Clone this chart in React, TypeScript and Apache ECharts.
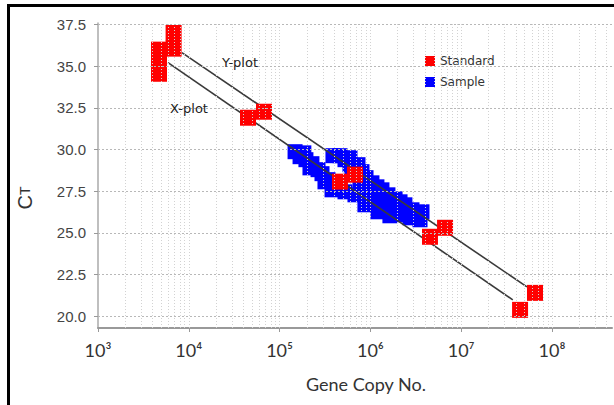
import React, { useEffect, useRef } from "react";
import * as echarts from "echarts";

const yTicks = [20, 22.5, 25, 27.5, 30, 32.5, 35, 37.5];
const xTicks = [1e3, 1e4, 1e5, 1e6, 1e7, 1e8];
const xTickLabels = ["10³", "10⁴", "10⁵", "10⁶", "10⁷", "10⁸"];
const minorMultipliers = [1, 2, 3, 4, 5, 6, 7, 8, 9];

const standard: [number, number][] = [
  [4.7e3, 36.0], [4.7e3, 35.3], [4.7e3, 34.55], [6.8e3, 37.0], [6.8e3, 36.06],
  [4.49e4, 31.91], [6.73e4, 32.27],
  [4.62e5, 28.07], [6.76e5, 28.49],
  [4.53e6, 24.76], [6.64e6, 25.3],
  [4.45e7, 20.37], [6.5e7, 21.39],
];

const sample: [number, number][] = [
  [1.48e5, 29.87], [1.68e5, 29.57], [1.85e5, 29.8], [1.95e5, 29.39], [2.27e5, 29.15],
  [2.16e5, 28.9], [2.65e5, 28.79], [2.93e5, 28.55], [3.16e5, 28.06], [3.41e5, 28.19],
  [3.78e5, 27.58], [3.87e5, 27.88],
  [3.87e5, 29.63], [4.63e5, 29.63], [5.25e5, 29.39], [5.96e5, 29.51], [5.96e5, 29.09],
  [7.3e5, 29.09], [6.94e5, 28.79], [6.27e5, 28.49],
  [8.08e5, 28.67], [8.95e5, 28.31], [1.04e6, 28.0], [1.18e6, 27.76], [1.34e6, 27.58],
  [1.56e6, 27.28], [1.87e6, 27.04], [2.12e6, 26.86], [2.4e6, 26.68], [2.87e6, 26.38],
  [3.34e6, 26.14], [3.7e6, 26.26],
  [5.25e5, 27.46], [6.76e5, 27.28], [7.68e5, 27.88], [9.42e5, 27.58], [1.12e6, 27.1],
  [8.7e5, 26.68], [1.21e6, 26.26], [1.45e6, 26.68], [1.64e6, 26.98], [1.64e6, 26.02],
  [1.87e6, 26.5], [2.12e6, 26.08], [2.73e6, 25.9], [3.52e6, 25.78],
];

const yPlotLine: [number, number][] = [[8.4e3, 35.82], [5.3e7, 21.75]];
const xPlotLine: [number, number][] = [[5.9e3, 35.22], [3.7e7, 20.97]];

const X_MAX = 4.58e8;

export default function App() {
  const ref = useRef<HTMLDivElement>(null);
  useEffect(() => {
    document.body.style.margin = "0";
    const chart = echarts.init(ref.current!, undefined, { renderer: "svg" });
    const gridX: number[] = [];
    xTicks.forEach((d) => minorMultipliers.forEach((m) => {
      if (d * m <= X_MAX && d * m > 1e3) gridX.push(d * m);
    }));
    const option: any = {
      animation: false,
      backgroundColor: "#fff",
      grid: { left: 98, right: 2, top: 23, bottom: 77, outerBoundsMode: "none", containLabel: false },
      legend: {
        data: ["Standard", "Sample"],
        orient: "vertical",
        left: 425,
        top: 55,
        itemWidth: 10,
        itemHeight: 10,
        itemGap: 9,
        icon: "rect",
        padding: 0,
        itemStyle: { borderWidth: 0 },
        textStyle: { fontFamily: "DejaVu Sans", fontSize: 12, color: "#333" },
      },
      xAxis: {
        type: "log",
        logBase: 10,
        min: 1e3,
        max: X_MAX,
        axisLine: { show: true, lineStyle: { color: "#999", width: 2 } },
        axisTick: { show: true, customValues: xTicks, length: 4, lineStyle: { color: "#999" } },
        axisLabel: {
          customValues: xTicks,
          formatter: (v: number) => xTickLabels[Math.round(Math.log10(v)) - 3] ?? "",
          fontFamily: "Lato",
          fontSize: 18,
          color: "#333",
          margin: 13,
        },
        splitLine: { show: false },
        minorTick: { show: false },
      },
      yAxis: {
        type: "value",
        min: 19.28,
        max: 37.6,
        axisLine: { show: true, lineStyle: { color: "#aaa", width: 1.5 } },
        axisTick: { show: true, customValues: yTicks, length: 4, lineStyle: { color: "#999" } },
        axisLabel: {
          customValues: yTicks,
          formatter: (v: number) => v.toFixed(1),
          fontFamily: "Liberation Sans",
          fontSize: 15,
          color: "#444",
          margin: 12,
        },
        splitLine: { show: false },
      },
      graphic: [
        { type: "rect", shape: { x: 7, y: 4, width: 3, height: 405 }, style: { fill: "#000" }, silent: true },
        { type: "rect", shape: { x: 7, y: 4, width: 614, height: 3 }, style: { fill: "#000" }, silent: true },
        {
          type: "text", x: 240, y: 62, z: 100,
          style: { text: "Y-plot", fontFamily: "DejaVu Sans", fontSize: 13, fill: "#222", textAlign: "center", textVerticalAlign: "middle" },
        },
        {
          type: "text", x: 189, y: 108, z: 100,
          style: { text: "X-plot", fontFamily: "DejaVu Sans", fontSize: 13, fill: "#222", textAlign: "center", textVerticalAlign: "middle" },
        },
        {
          type: "text", x: 366, y: 384, z: 100,
          style: { text: "Gene Copy No.", fontFamily: "Lato", fontSize: 18, fill: "#333", textAlign: "center", textVerticalAlign: "middle" },
        },
        {
          type: "text", x: 25, y: 198, rotation: Math.PI / 2, z: 100,
          style: {
            text: "{a|C}{b|T}",
            textAlign: "center",
            textVerticalAlign: "middle",
            rich: {
              a: { fontFamily: "Liberation Sans", fontSize: 20, fill: "#333" },
              b: { fontFamily: "Liberation Sans", fontSize: 14, fill: "#333" },
            },
          },
        },
      ],
      series: [
        {
          name: "grid",
          type: "line",
          data: [],
          silent: true,
          z: 0,
          markLine: {
            silent: true,
            symbol: ["none", "none"],
            label: { show: false },
            animation: false,
            emphasis: { disabled: true },
            data: [
              ...gridX.map((v) => ({ xAxis: v, lineStyle: { color: "#d2d2d2", type: [1, 2], width: 1 } })),
              ...yTicks.map((v) => ({ yAxis: v, lineStyle: { color: "#b8b8b8", type: [2, 2], width: 1 } })),
            ],
          },
        },
        {
          name: "Sample",
          type: "scatter",
          data: sample,
          symbol: "rect",
          symbolSize: 15,
          itemStyle: { color: "#0000ff", opacity: 1, borderWidth: 0 },
          z: 2,
        },
        {
          name: "yplot",
          type: "line",
          data: yPlotLine,
          symbol: "none",
          lineStyle: { color: "#3a3a3a", width: 1.6 },
          z: 3,
        },
        {
          name: "xplot",
          type: "line",
          data: xPlotLine,
          symbol: "none",
          lineStyle: { color: "#3a3a3a", width: 1.6 },
          z: 3,
        },
        {
          name: "Standard",
          type: "scatter",
          data: standard,
          symbol: "rect",
          symbolSize: 16,
          itemStyle: { color: "#ff0000", opacity: 1, borderWidth: 0 },
          z: 4,
        },
      ],
    };
    chart.setOption(option);
    return () => chart.dispose();
  }, []);
  return <div ref={ref} style={{ width: 614, height: 405 }} />;
}
